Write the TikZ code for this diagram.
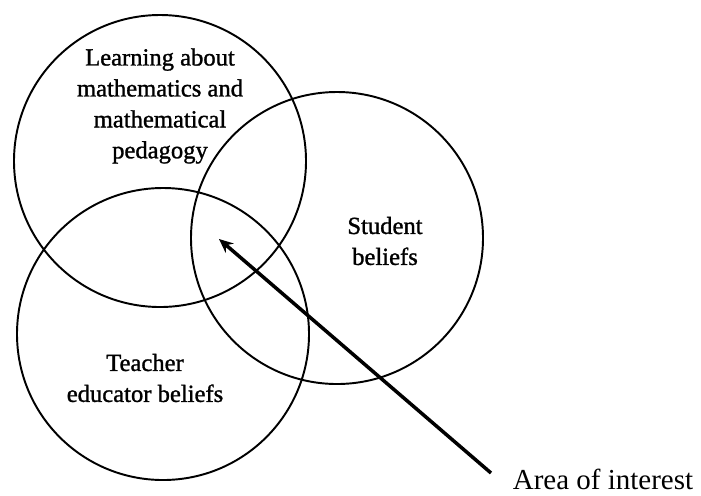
\documentclass[tikz,border=0pt]{standalone}
\usepackage{fontspec}
\setmainfont{Liberation Serif}
\newfontfamily\heavyserif[FakeBold=1.2]{Liberation Serif}
\usetikzlibrary{arrows.meta}

\begin{document}
\begin{tikzpicture}[scale=0.2]
\tikzstyle{every node}+=[inner sep=0pt, align=center, font=\heavyserif\fontsize{14}{17.6}\selectfont]
\useasboundingbox (0,0) rectangle (70.1,-49.5);
% the three sets
\draw [black, line width=1.1pt] (16.0,-16.1) circle (14.6);
\draw [black, line width=1.1pt] (33.7,-23.8) circle (14.6);
\draw [black, line width=1.1pt] (16.3,-33.4) circle (14.6);
% labels
\draw (16.0,-10.6) node (learning) {Learning about\\mathematics and\\mathematical\\pedagogy};
\draw (38.5,-24.1) node (student) {Student\\beliefs};
\draw (14.5,-37.8) node (teacher) {Teacher\\educator beliefs};
\draw (60.3,-47.9) node [font=\fontsize{16.5}{20}\selectfont] (area) {Area of interest};
% pointer into the overlap
\coordinate (tail) at (49.1,-47.3);
\coordinate (overlap) at (21.9,-23.9);
\draw [black, line width=2pt, -{Stealth[length=8pt,width=7pt]}] (tail) -- (overlap);
\end{tikzpicture}
\end{document}
